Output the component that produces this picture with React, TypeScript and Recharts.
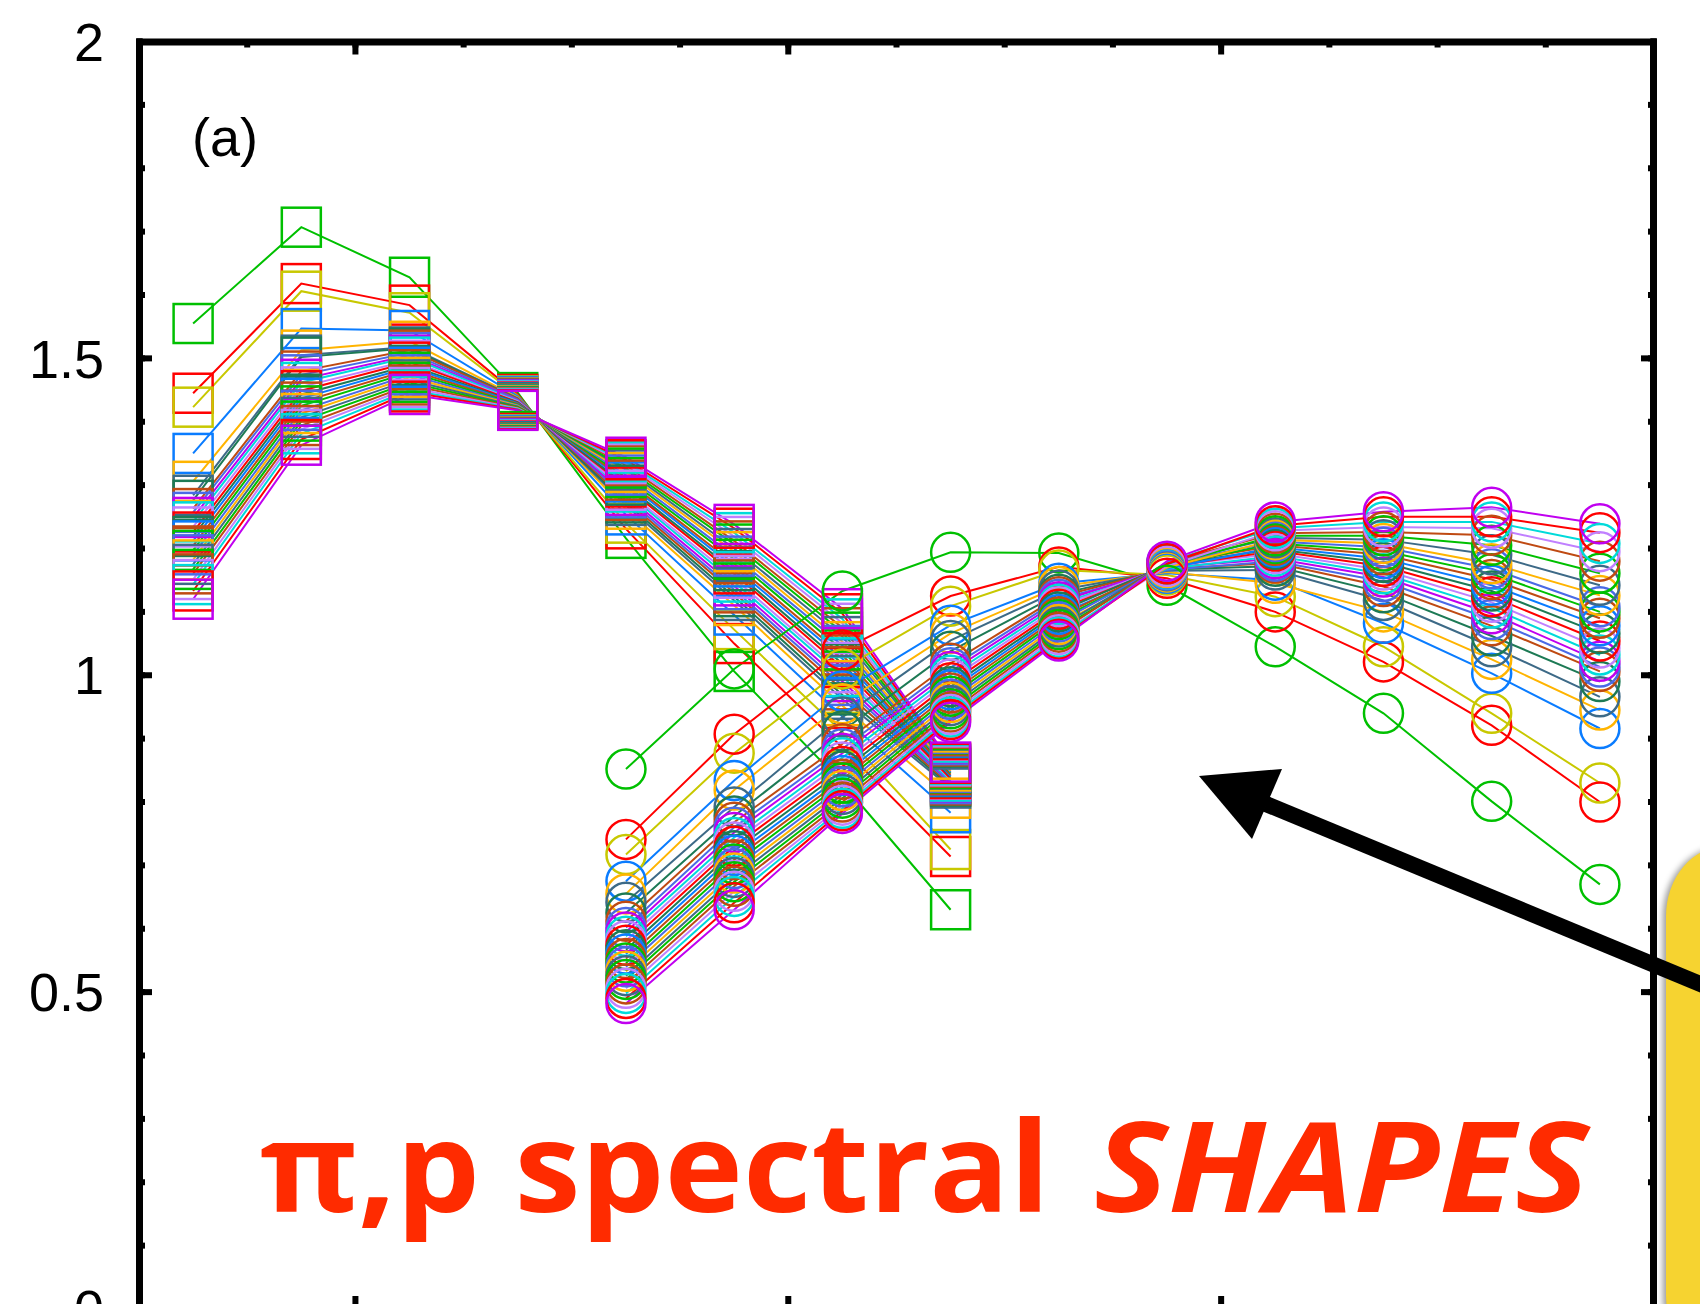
import { LineChart, Line, XAxis, YAxis } from 'recharts';

// pT bin centres (GeV/c) for the two particle species
const pionPt = [0.625, 0.875, 1.125, 1.375, 1.625, 1.875, 2.125, 2.375];
const protonPt = [1.625, 1.875, 2.125, 2.375, 2.625, 2.875, 3.125, 3.375, 3.625, 3.875];

const minorXTicks = [0.75, 1, 1.25, 1.5, 1.75, 2, 2.25, 2.5, 2.75, 3, 3.25, 3.5, 3.75];
const majorXTicks = [1, 2, 3];
const minorYTicks = [0.1, 0.2, 0.3, 0.4, 0.5, 0.6, 0.7, 0.8, 0.9, 1, 1.1, 1.2, 1.3, 1.4, 1.5, 1.6, 1.7, 1.8, 1.9];
const majorYTicks = [0.5, 1, 1.5];
const yLabelTicks = [0, 0.5, 1, 1.5, 2];

const seriesColors = [
  '#00c000', '#ff0000', '#c8c800', '#0a7cff', '#ffb400', '#3d6a87', '#1d7a55', '#bf4a12',
  '#4a6ae6', '#c000f0', '#00dada', '#c080ff', '#ff0000', '#1d7a55', '#0a7cff', '#bf4a12',
  '#00c000', '#4a6ae6', '#ffb400', '#3d6a87', '#00c000', '#bf4a12', '#c080ff', '#00dada',
  '#ff0000', '#c000f0',
];

// pion spectral shapes (squares), one row per parameter set
const pionShapes = [
  [1.555, 1.707, 1.628, 1.446, 1.216, 1.006, 0.830, 0.630],
  [1.445, 1.618, 1.584, 1.443, 1.231, 1.050, 0.886, 0.714],
  [1.423, 1.606, 1.572, 1.441, 1.240, 1.072, 0.910, 0.725],
  [1.350, 1.547, 1.544, 1.440, 1.253, 1.095, 0.935, 0.783],
  [1.306, 1.513, 1.527, 1.438, 1.262, 1.110, 0.952, 0.806],
  [1.284, 1.505, 1.518, 1.437, 1.268, 1.118, 0.962, 0.822],
  [1.276, 1.502, 1.516, 1.436, 1.272, 1.124, 0.969, 0.825],
  [1.263, 1.480, 1.513, 1.436, 1.276, 1.130, 0.977, 0.827],
  [1.257, 1.474, 1.509, 1.435, 1.280, 1.135, 0.984, 0.829],
  [1.249, 1.467, 1.505, 1.434, 1.284, 1.141, 0.990, 0.832],
  [1.242, 1.462, 1.502, 1.433, 1.289, 1.147, 0.998, 0.833],
  [1.234, 1.455, 1.497, 1.432, 1.292, 1.153, 1.004, 0.836],
  [1.226, 1.449, 1.494, 1.431, 1.297, 1.160, 1.012, 0.837],
  [1.219, 1.443, 1.489, 1.430, 1.300, 1.165, 1.018, 0.840],
  [1.212, 1.437, 1.486, 1.429, 1.305, 1.171, 1.026, 0.841],
  [1.204, 1.431, 1.482, 1.428, 1.308, 1.176, 1.032, 0.843],
  [1.197, 1.425, 1.478, 1.427, 1.312, 1.183, 1.040, 0.846],
  [1.190, 1.418, 1.474, 1.426, 1.316, 1.188, 1.047, 0.847],
  [1.182, 1.413, 1.470, 1.425, 1.320, 1.195, 1.053, 0.849],
  [1.175, 1.407, 1.466, 1.424, 1.324, 1.200, 1.061, 0.852],
  [1.167, 1.401, 1.462, 1.423, 1.327, 1.207, 1.068, 0.853],
  [1.160, 1.394, 1.458, 1.422, 1.331, 1.212, 1.075, 0.855],
  [1.151, 1.388, 1.454, 1.421, 1.334, 1.219, 1.082, 0.857],
  [1.143, 1.381, 1.450, 1.420, 1.337, 1.225, 1.089, 0.859],
  [1.133, 1.372, 1.447, 1.419, 1.340, 1.232, 1.097, 0.861],
  [1.120, 1.363, 1.443, 1.418, 1.344, 1.238, 1.105, 0.863],
];

// proton spectral shapes (circles)
const protonShapes = [
  [0.852, 1.010, 1.133, 1.194, 1.193, 1.142, 1.045, 0.940, 0.801, 0.670],
  [0.741, 0.907, 1.040, 1.125, 1.171, 1.153, 1.100, 1.021, 0.921, 0.800],
  [0.717, 0.877, 1.010, 1.109, 1.166, 1.158, 1.124, 1.045, 0.940, 0.830],
  [0.675, 0.834, 0.975, 1.079, 1.145, 1.161, 1.150, 1.082, 1.003, 0.916],
  [0.655, 0.819, 0.955, 1.066, 1.140, 1.163, 1.145, 1.100, 1.025, 0.945],
  [0.642, 0.792, 0.934, 1.055, 1.134, 1.165, 1.166, 1.118, 1.045, 0.966],
  [0.625, 0.778, 0.912, 1.038, 1.128, 1.167, 1.172, 1.130, 1.062, 0.990],
  [0.612, 0.768, 0.892, 1.019, 1.124, 1.168, 1.177, 1.140, 1.078, 1.006],
  [0.602, 0.760, 0.884, 1.012, 1.120, 1.166, 1.180, 1.148, 1.088, 1.013],
  [0.595, 0.752, 0.877, 1.006, 1.116, 1.170, 1.184, 1.155, 1.097, 1.022],
  [0.588, 0.744, 0.870, 1.000, 1.112, 1.168, 1.188, 1.160, 1.106, 1.032],
  [0.581, 0.737, 0.863, 0.994, 1.108, 1.172, 1.192, 1.166, 1.115, 1.043],
  [0.574, 0.730, 0.856, 0.988, 1.104, 1.171, 1.196, 1.172, 1.124, 1.054],
  [0.567, 0.723, 0.849, 0.982, 1.100, 1.174, 1.199, 1.178, 1.133, 1.066],
  [0.560, 0.716, 0.842, 0.977, 1.096, 1.169, 1.202, 1.184, 1.142, 1.078],
  [0.553, 0.709, 0.836, 0.972, 1.092, 1.175, 1.205, 1.190, 1.151, 1.090],
  [0.546, 0.702, 0.830, 0.967, 1.088, 1.173, 1.208, 1.196, 1.160, 1.100],
  [0.540, 0.695, 0.824, 0.962, 1.084, 1.176, 1.211, 1.202, 1.168, 1.108],
  [0.533, 0.688, 0.818, 0.957, 1.080, 1.170, 1.214, 1.208, 1.176, 1.126],
  [0.526, 0.681, 0.812, 0.952, 1.076, 1.177, 1.217, 1.214, 1.190, 1.142],
  [0.520, 0.674, 0.806, 0.947, 1.072, 1.174, 1.220, 1.220, 1.205, 1.161],
  [0.513, 0.667, 0.800, 0.942, 1.068, 1.178, 1.224, 1.226, 1.221, 1.180],
  [0.506, 0.659, 0.795, 0.938, 1.064, 1.172, 1.228, 1.234, 1.232, 1.195],
  [0.498, 0.651, 0.790, 0.934, 1.060, 1.179, 1.232, 1.242, 1.242, 1.208],
  [0.490, 0.641, 0.786, 0.930, 1.057, 1.176, 1.236, 1.250, 1.250, 1.225],
  [0.482, 0.630, 0.782, 0.926, 1.054, 1.180, 1.242, 1.258, 1.265, 1.239],
];

const toPoints = (xs: number[], ys: number[]) => xs.map((x, i) => ({ x, y: ys[i] }));

const axisLine = { stroke: '#000', strokeWidth: 6, strokeLinecap: 'square' as const };
const tickLine = { stroke: '#000', strokeWidth: 6 };
const noLabel = () => <g />;

const SquareDot = (color: string) => (p: any) => {
  if (p.cx == null || p.cy == null) return <g key={p.index} />;
  return (
    <rect key={p.index} x={p.cx - 19.5} y={p.cy - 19.5} width={39} height={39}
      fill="none" stroke={color} strokeWidth={2.5} />
  );
};

const CircleDot = (color: string) => (p: any) => {
  if (p.cx == null || p.cy == null) return <g key={p.index} />;
  return <circle key={p.index} cx={p.cx} cy={p.cy} r={19.5} fill="none" stroke={color} strokeWidth={2.5} />;
};

export default function App() {
  return (
    <div style={{ position: 'absolute', left: 0, top: 0, width: 1700, height: 1304, overflow: 'hidden', background: '#fff' }}>
      <LineChart width={1700} height={1330} margin={{ top: 41.5, right: 46, bottom: 21, left: 0 }}>
        <XAxis xAxisId="b" type="number" dataKey="x" domain={[0.5, 4]} ticks={minorXTicks} interval={0}
          orientation="bottom" mirror height={1} tick={noLabel} tickSize={3} stroke="#000" tickLine={tickLine} axisLine={axisLine} allowDataOverflow />
        <XAxis xAxisId="bM" type="number" dataKey="x" domain={[0.5, 4]} ticks={majorXTicks} interval={0}
          orientation="bottom" mirror height={1} tick={noLabel} tickSize={12} stroke="#000" tickLine={tickLine} axisLine={axisLine} allowDataOverflow />
        <XAxis xAxisId="t" type="number" dataKey="x" domain={[0.5, 4]} ticks={minorXTicks} interval={0}
          orientation="top" mirror height={1} tick={noLabel} tickSize={6} stroke="#000" tickLine={tickLine} axisLine={axisLine} allowDataOverflow />
        <XAxis xAxisId="tM" type="number" dataKey="x" domain={[0.5, 4]} ticks={majorXTicks} interval={0}
          orientation="top" mirror height={1} tick={noLabel} tickSize={12} stroke="#000" tickLine={tickLine} axisLine={axisLine} allowDataOverflow />

        <YAxis yAxisId="lab" type="number" domain={[0, 2]} ticks={yLabelTicks} interval={0} orientation="left" width={139}
          axisLine={false} tickLine={false} tickSize={0} tickMargin={35}
          tick={{ fill: '#000', fontSize: 54, fontFamily: '"Liberation Sans", Arial, sans-serif' }} allowDataOverflow />
        <YAxis yAxisId="l" type="number" domain={[0, 2]} ticks={minorYTicks} interval={0} orientation="left" mirror width={1}
          tick={noLabel} tickSize={6} stroke="#000" tickLine={tickLine} axisLine={axisLine} allowDataOverflow />
        <YAxis yAxisId="lM" type="number" domain={[0, 2]} ticks={majorYTicks} interval={0} orientation="left" mirror width={1}
          tick={noLabel} tickSize={12} stroke="#000" tickLine={tickLine} axisLine={axisLine} allowDataOverflow />
        <YAxis yAxisId="r" type="number" domain={[0, 2]} ticks={minorYTicks} interval={0} orientation="right" mirror width={1}
          tick={noLabel} tickSize={6} stroke="#000" tickLine={tickLine} axisLine={axisLine} allowDataOverflow />
        <YAxis yAxisId="rM" type="number" domain={[0, 2]} ticks={majorYTicks} interval={0} orientation="right" mirror width={1}
          tick={noLabel} tickSize={12} stroke="#000" tickLine={tickLine} axisLine={axisLine} allowDataOverflow />

        {pionShapes.map((ys, i) => (
          <Line key={`pi-${i}`} xAxisId="b" yAxisId="l" data={toPoints(pionPt, ys)} dataKey="y" type="linear"
            stroke={seriesColors[i]} strokeWidth={2} dot={SquareDot(seriesColors[i])} activeDot={false}
            isAnimationActive={false} />
        ))}
        {protonShapes.map((ys, i) => (
          <Line key={`p-${i}`} xAxisId="b" yAxisId="l" data={toPoints(protonPt, ys)} dataKey="y" type="linear"
            stroke={seriesColors[i]} strokeWidth={2} dot={CircleDot(seriesColors[i])} activeDot={false}
            isAnimationActive={false} />
        ))}
      </LineChart>

      <svg width={1700} height={1304} style={{ position: 'absolute', left: 0, top: 0, pointerEvents: 'none' }}>
        <text x={192} y={156} fontSize={54} fontFamily='"Liberation Sans", Arial, sans-serif' fill="#000">(a)</text>
        <text x={260} y={1212} fontSize={125} fontWeight={700} fontFamily='"Open Sans", "Noto Sans", sans-serif'
          fill="#ff2b00" textLength={790} lengthAdjust="spacingAndGlyphs">π,p spectral</text>
        <text x={1094} y={1212} fontSize={125} fontWeight={700} fontStyle="italic" fontFamily='"Open Sans", "Noto Sans", sans-serif'
          fill="#ff2b00" textLength={495} lengthAdjust="spacingAndGlyphs">SHAPES</text>
        <rect x={1666} y={846} width={120} height={520} rx={70} ry={70} fill="#f6d330"
          style={{ filter: 'drop-shadow(-3px 1px 3px rgba(0,0,0,0.4))' }} />
        <line x1={1266} y1={804} x2={1715} y2={990} stroke="#000" strokeWidth={16} />
        <polygon points="1199,776 1282,769 1252,839" fill="#000" />
      </svg>
    </div>
  );
}
